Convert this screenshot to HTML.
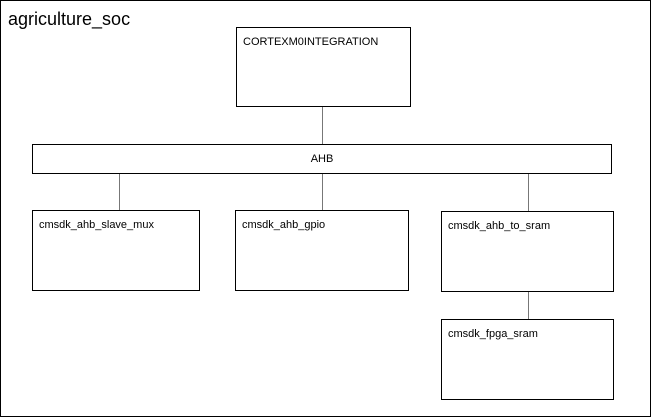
<!DOCTYPE html>
<html><head><style>
body{margin:0;width:651px;height:417px;background:#fff;font-family:"Liberation Sans",sans-serif;position:relative;overflow:hidden}
.b{position:absolute;border:1px solid #000;box-sizing:border-box;background:#fff;font-size:11px;padding:8px 0 0 6px}
.l{position:absolute;width:0;border-left:1.5px solid #777}
</style></head><body>
<div style="position:absolute;left:0;top:0;width:651px;height:417px;border:1px solid #000;box-sizing:border-box"></div>
<div style="position:absolute;left:8px;top:9px;font-size:18px">agriculture_soc</div>
<div class="l" style="left:322px;top:106px;height:39px"></div>
<div class="l" style="left:119px;top:174px;height:36px"></div>
<div class="l" style="left:322px;top:174px;height:36px"></div>
<div class="l" style="left:528px;top:174px;height:37px"></div>
<div class="l" style="left:528px;top:291px;height:28px"></div>
<div class="b" style="left:236px;top:27px;width:175px;height:80px">CORTEXM0INTEGRATION</div>
<div class="b" style="left:32px;top:144px;width:580px;height:30px;padding:8px 0 0 0;text-align:center">AHB</div>
<div class="b" style="left:32px;top:210px;width:168px;height:81px">cmsdk_ahb_slave_mux</div>
<div class="b" style="left:235px;top:210px;width:174px;height:81px">cmsdk_ahb_gpio</div>
<div class="b" style="left:441px;top:211px;width:173px;height:81px">cmsdk_ahb_to_sram</div>
<div class="b" style="left:441px;top:319px;width:173px;height:81px">cmsdk_fpga_sram</div>
</body></html>
